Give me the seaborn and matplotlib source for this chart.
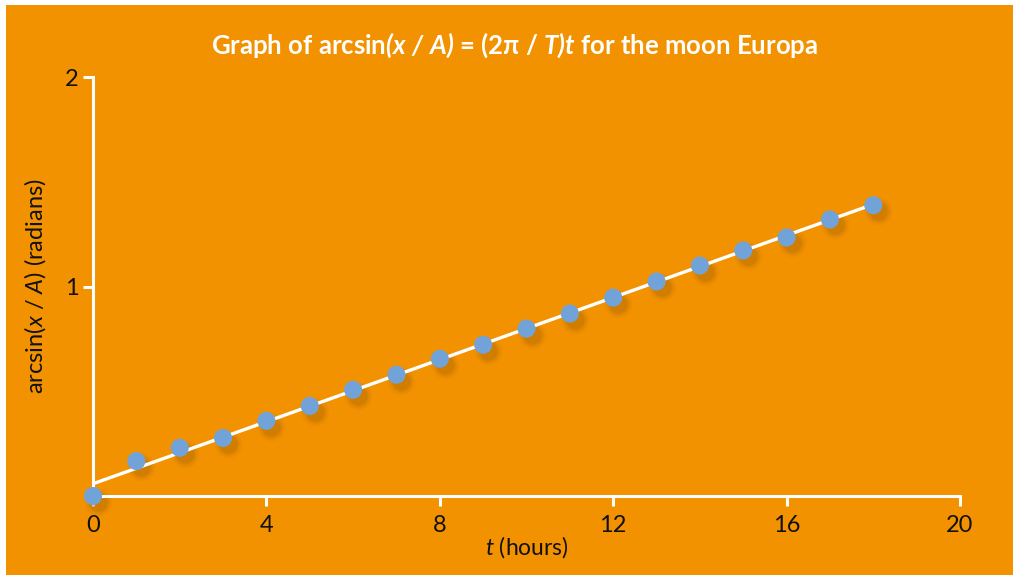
import matplotlib
matplotlib.use("Agg")
import matplotlib.pyplot as plt
import matplotlib.transforms as mtransforms
from matplotlib.patches import Rectangle
import numpy as np
import pandas as pd
import seaborn as sns

# hours and arcsin(x/A)
hours = [0, 1, 2, 3, 4, 5, 6, 7, 8, 9, 10, 11, 12, 13, 14, 15, 16, 17, 18]
angle = [0.0, 0.167, 0.23, 0.277, 0.359, 0.43, 0.507, 0.579, 0.655, 0.722,
         0.799, 0.871, 0.947, 1.024, 1.10, 1.172, 1.234, 1.32, 1.388]
x_ticks = [0, 4, 8, 12, 16, 20]
y_ticks = [1, 2]

orange = "#F39200"
blue = "#72A3D8"

sns.set_style("ticks")
plt.rcParams["font.family"] = ["Lato", "DejaVu Sans"]
plt.rcParams["mathtext.fontset"] = "custom"
plt.rcParams["mathtext.rm"] = "Lato"
plt.rcParams["mathtext.it"] = "Lato:italic"
plt.rcParams["mathtext.bf"] = "Lato:bold"
plt.rcParams["mathtext.bfit"] = "Lato:bold:italic"

df = pd.DataFrame({"t": hours, "angle": angle})

fig = plt.figure(figsize=(10.13, 5.75), dpi=100, facecolor="white")
fig.patches.append(Rectangle((6 / 1013, 0), 1, 1 - 5 / 575, transform=fig.transFigure,
                             facecolor=orange, edgecolor="none", zorder=-10))
ax = fig.add_axes([93 / 1013, 79 / 575, 867 / 1013, 419 / 575])
ax.set_facecolor("none")

# soft shadows under the dots
for s, a in [(420, 0.03), (340, 0.04), (270, 0.06), (210, 0.08), (160, 0.10)]:
    off = mtransforms.ScaledTranslation(5 / 100, -6 / 100, fig.dpi_scale_trans)
    ax.scatter(hours, angle, s=s, color="#7a4a00", alpha=a, linewidths=0,
               transform=ax.transData + off, zorder=1, clip_on=False)

sns.regplot(data=df, x="t", y="angle", scatter=False, ci=None, ax=ax,
            line_kws=dict(color="white", lw=2.4, zorder=2))
sns.scatterplot(data=df, x="t", y="angle", s=170, color=blue, edgecolor="none",
                ax=ax, zorder=3, clip_on=False)

ax.set_xlim(0, 20)
ax.set_ylim(0, 2)
ax.set_xticks(x_ticks)
ax.set_yticks(y_ticks)
for side in ["top", "right"]:
    ax.spines[side].set_visible(False)
for side in ["left", "bottom"]:
    ax.spines[side].set_color("white")
    ax.spines[side].set_linewidth(2.2)
ax.tick_params(colors="white", width=2.2, length=7, labelcolor="#111111",
               labelsize=17)
ax.tick_params(axis="x", pad=7)

ax.set_xlabel(r"$t$ (hours)", fontsize=16.5, color="#111111", labelpad=-2)
ax.set_ylabel(r"arcsin($x$ / $A$) (radians)", fontsize=17, color="#111111", labelpad=12)

fig.text(515 / 1013, 1 - 45 / 575,
         r"Graph of arcsin$\mathbfit{(x\ /\ A)}$ = (2π / $\mathbfit{T)t}$ for the moon Europa",
         ha="center", va="center", color="white", fontsize=18.5, fontweight="bold")

fig.savefig("out.png", dpi=100, facecolor="white")
